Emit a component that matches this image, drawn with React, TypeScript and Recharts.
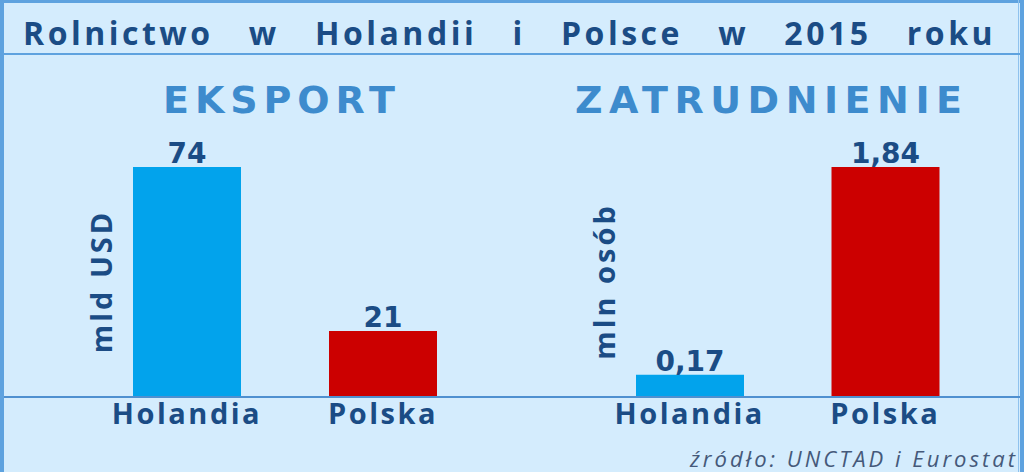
import React from 'react';
import { BarChart, Bar, XAxis, YAxis, Cell, LabelList, Label } from 'recharts';

const categories = ['Holandia', 'Polska'];
const exportValues = [74, 21];
const employmentValues = [0.17, 1.84];
const titleWords = ['Rolnictwo', 'w', 'Holandii', 'i', 'Polsce', 'w', '2015', 'roku'];
const exportTitle = 'EKSPORT';
const employmentTitle = 'ZATRUDNIENIE';
const exportUnit = 'mld USD';
const employmentUnit = 'mln osób';
const source = 'źródło: UNCTAD i Eurostat';

const exportData = categories.map((c, i) => ({ name: c, value: exportValues[i] }));
const employmentData = categories.map((c, i) => ({ name: c, value: employmentValues[i] }));

const BAR_COLORS = ['#02a3ec', '#cc0000'];
const NAVY = '#1b4c85';
const BG = '#d4ecfd';
const FRAME = '#5ea2df';

const fmt = (v: any) => String(v).replace('.', ',');

const CatTick = (props: any) => {
  const { x, y, payload } = props;
  return (
    <text x={x} y={y + 28} textAnchor="middle" fill={NAVY} fontFamily="'Open Sans'" fontWeight={700} fontSize={29} letterSpacing={2.5}>
      {payload.value}
    </text>
  );
};

const unitLabel = (text: string) => (props: any) => {
  const vb = props.viewBox || {};
  const cx = vb.x + vb.width + 23;
  const cy = vb.y + vb.height / 2;
  return (
    <text x={cx} y={cy} transform={`rotate(-90 ${cx} ${cy})`} textAnchor="middle" fill={NAVY} fontFamily="'Open Sans'" fontWeight={700} fontSize={29} letterSpacing={3}>
      {text}
    </text>
  );
};

function Panel({ data, domain, unit, left, margin }: any) {
  return (
    <div style={{ position: 'absolute', left, top: 0 }}>
      <BarChart width={512} height={472} data={data} margin={margin}>
        <XAxis dataKey="name" axisLine={false} tickLine={false} tickSize={0} tickMargin={0} height={40} tick={<CatTick />} interval={0} />
        <YAxis type="number" domain={domain} width={60} axisLine={false} tickLine={false} tick={false}>
          <Label content={unitLabel(unit)} />
        </YAxis>
        <Bar dataKey="value" barSize={108} isAnimationActive={false}>
          {data.map((d: any, i: number) => (
            <Cell key={d.name} fill={BAR_COLORS[i]} />
          ))}
          <LabelList dataKey="value" position="top" offset={4} formatter={fmt} fill={NAVY} fontFamily="'DejaVu Sans'" fontWeight={700} fontSize={28} />
        </Bar>
      </BarChart>
    </div>
  );
}

export default function App() {
  return (
    <div style={{ position: 'absolute', left: 0, top: 0, width: 1024, height: 472, background: BG, overflow: 'hidden' }}>
      <Panel data={exportData} domain={[0, 74]} unit={exportUnit} left={0} margin={{ top: 167, right: 31, bottom: 36, left: 29 }} />
      <Panel data={employmentData} domain={[0, 1.84]} unit={employmentUnit} left={512} margin={{ top: 167, right: 41, bottom: 36, left: 20 }} />
      <div
        style={{
          position: 'absolute', left: 23, top: 17, width: 973, display: 'flex', justifyContent: 'space-between',
          fontFamily: "'Open Sans'", fontWeight: 700, fontSize: 32, lineHeight: '32px', color: NAVY, letterSpacing: 3.5,
        }}
      >
        {titleWords.map((w, i) => (
          <span key={i}>{w}</span>
        ))}
      </div>
      <svg width={1024} height={472} style={{ position: 'absolute', left: 0, top: 0, pointerEvents: 'none' }}>
        <rect x={0} y={0} width={1024} height={3} fill={FRAME} />
        <rect x={0} y={0} width={4} height={472} fill={FRAME} />
        <rect x={1020} y={0} width={4} height={472} fill={FRAME} />
        <rect x={1018} y={0} width={1} height={472} fill="#8fc2ee" />
        <rect x={4} y={53} width={1016} height={2} fill={FRAME} />
        <rect x={4} y={396} width={1016} height={2} fill="#4f90d0" />
        <text x={163} y={113} textLength={232} lengthAdjust="spacing" fill="#3d8bcd" fontFamily="'DejaVu Sans'" fontWeight={700} fontSize={38}>{exportTitle}</text>
        <text x={575} y={113} textLength={387} lengthAdjust="spacing" fill="#3d8bcd" fontFamily="'DejaVu Sans'" fontWeight={700} fontSize={38}>{employmentTitle}</text>
        <text x={690} y={467} textLength={325} lengthAdjust="spacing" fill="#45597a" fontFamily="'Open Sans'" fontStyle="italic" fontSize={22}>{source}</text>
      </svg>
    </div>
  );
}
